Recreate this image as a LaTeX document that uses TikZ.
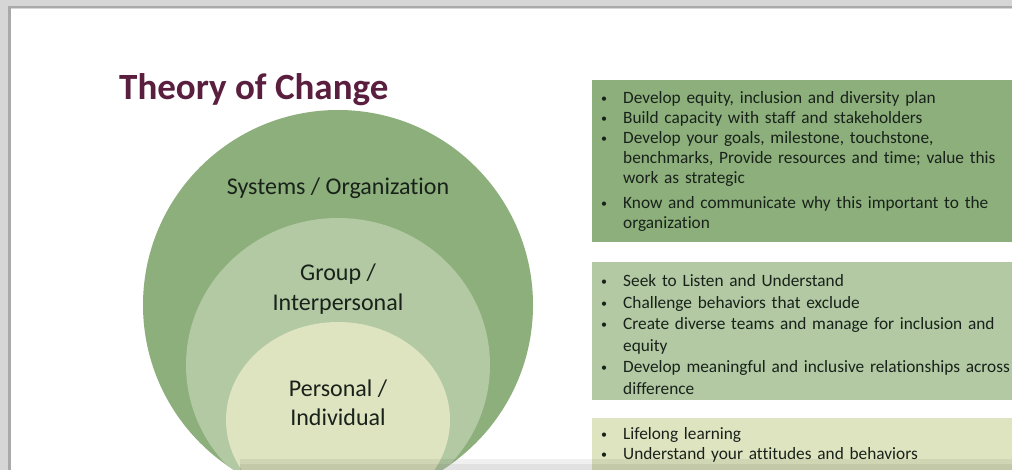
\documentclass[tikz,border=0pt]{standalone}
\usepackage{fontspec}
\setmainfont{Carlito}[Ligatures=NoCommon]
\definecolor{sysgreen}{HTML}{8DAF7C}
\definecolor{grpgreen}{HTML}{B2C9A3}
\definecolor{pergreen}{HTML}{DEE3C0}
\definecolor{titlecol}{HTML}{5A1E3E}
\definecolor{inkcol}{HTML}{18221A}
\definecolor{framedark}{HTML}{A9A9A9}
\definecolor{framelight}{HTML}{D6D6D6}
% one bullet paragraph with hanging indent for wrapped lines
\newcommand{\bul}[1]{\par\noindent\hangindent=23pt\hangafter=1\makebox[23pt][l]{\hspace{1pt}\raisebox{1pt}{\fontsize{12}{12}\selectfont\textbullet}}#1\par}
\begin{document}
\begin{tikzpicture}[x=1pt,y=-1pt,
  ringlabel/.style={text=inkcol, align=center, font=\fontsize{24}{29.5}\selectfont, inner sep=0pt},
  listbox/.style={anchor=north west, inner xsep=8pt, inner ysep=0pt, text width=440pt, align=left, text=inkcol},
]
\useasboundingbox (0,0) rectangle (1012,470);
\clip (0,0) rectangle (1012,470);
\fill[white] (0,0) rectangle (1012,470);

% screen frame
\fill[framelight] (0,0) rectangle (1012,9);
\fill[framedark] (11,6.5) rectangle (1012,8.5);
\fill[framelight] (0,0) rectangle (11,470);
\fill[framedark] (8,6.5) rectangle (11,470);

% title
\node[anchor=base west, text=titlecol, font=\fontsize{37}{42}\selectfont\bfseries, inner sep=0pt] (title) at (119,100) {Theory of Change};

% nested rings
\begin{scope}
  \fill[sysgreen] (338,305) circle[radius=195pt];
  \clip (338,305) circle[radius=195pt];
  \fill[grpgreen] (338,365) ellipse[x radius=152pt, y radius=147pt];
  \fill[pergreen] (338,420) ellipse[x radius=112pt, y radius=98pt];
\end{scope}

\node[ringlabel] (sys) at (338,188) {Systems / Organization};
\node[ringlabel] (grp) at (338,289) {Group /\\Interpersonal};
\node[ringlabel] (per) at (338,403) {Personal /\\Individual};

% list boxes
\fill[sysgreen] (592,80) rectangle (1012,242);
\fill[grpgreen] (592,262) rectangle (1012,400);
\fill[pergreen] (592,418) rectangle (1012,470);

\node[listbox, font=\fontsize{17.3}{20}\selectfont] (syslist) at (592,83) {%
\bul{Develop equity, inclusion and diversity plan}
\bul{Build capacity with staff and stakeholders}
\bul{Develop your goals, milestone, touchstone,\newline benchmarks, Provide resources and time; value this\newline work as strategic}
\vspace{5pt}
\bul{Know and communicate why this important to the\newline organization}};

\node[listbox, font=\fontsize{17.3}{21.5}\selectfont] (grplist) at (592,265) {%
\bul{Seek to Listen and Understand}
\bul{Challenge behaviors that exclude}
\bul{Create diverse teams and manage for inclusion and\newline equity}
\bul{Develop meaningful and inclusive relationships across\newline difference}};

\node[listbox, font=\fontsize{17.3}{20}\selectfont] (perlist) at (592,419) {%
\bul{Lifelong learning}
\bul{Understand your attitudes and behaviors}};

% shadow along the lower edge
\fill[black, opacity=0.06] (240,459) rectangle (1012,470);
\fill[black, opacity=0.06] (240,464) rectangle (1012,470);
\end{tikzpicture}
\end{document}
